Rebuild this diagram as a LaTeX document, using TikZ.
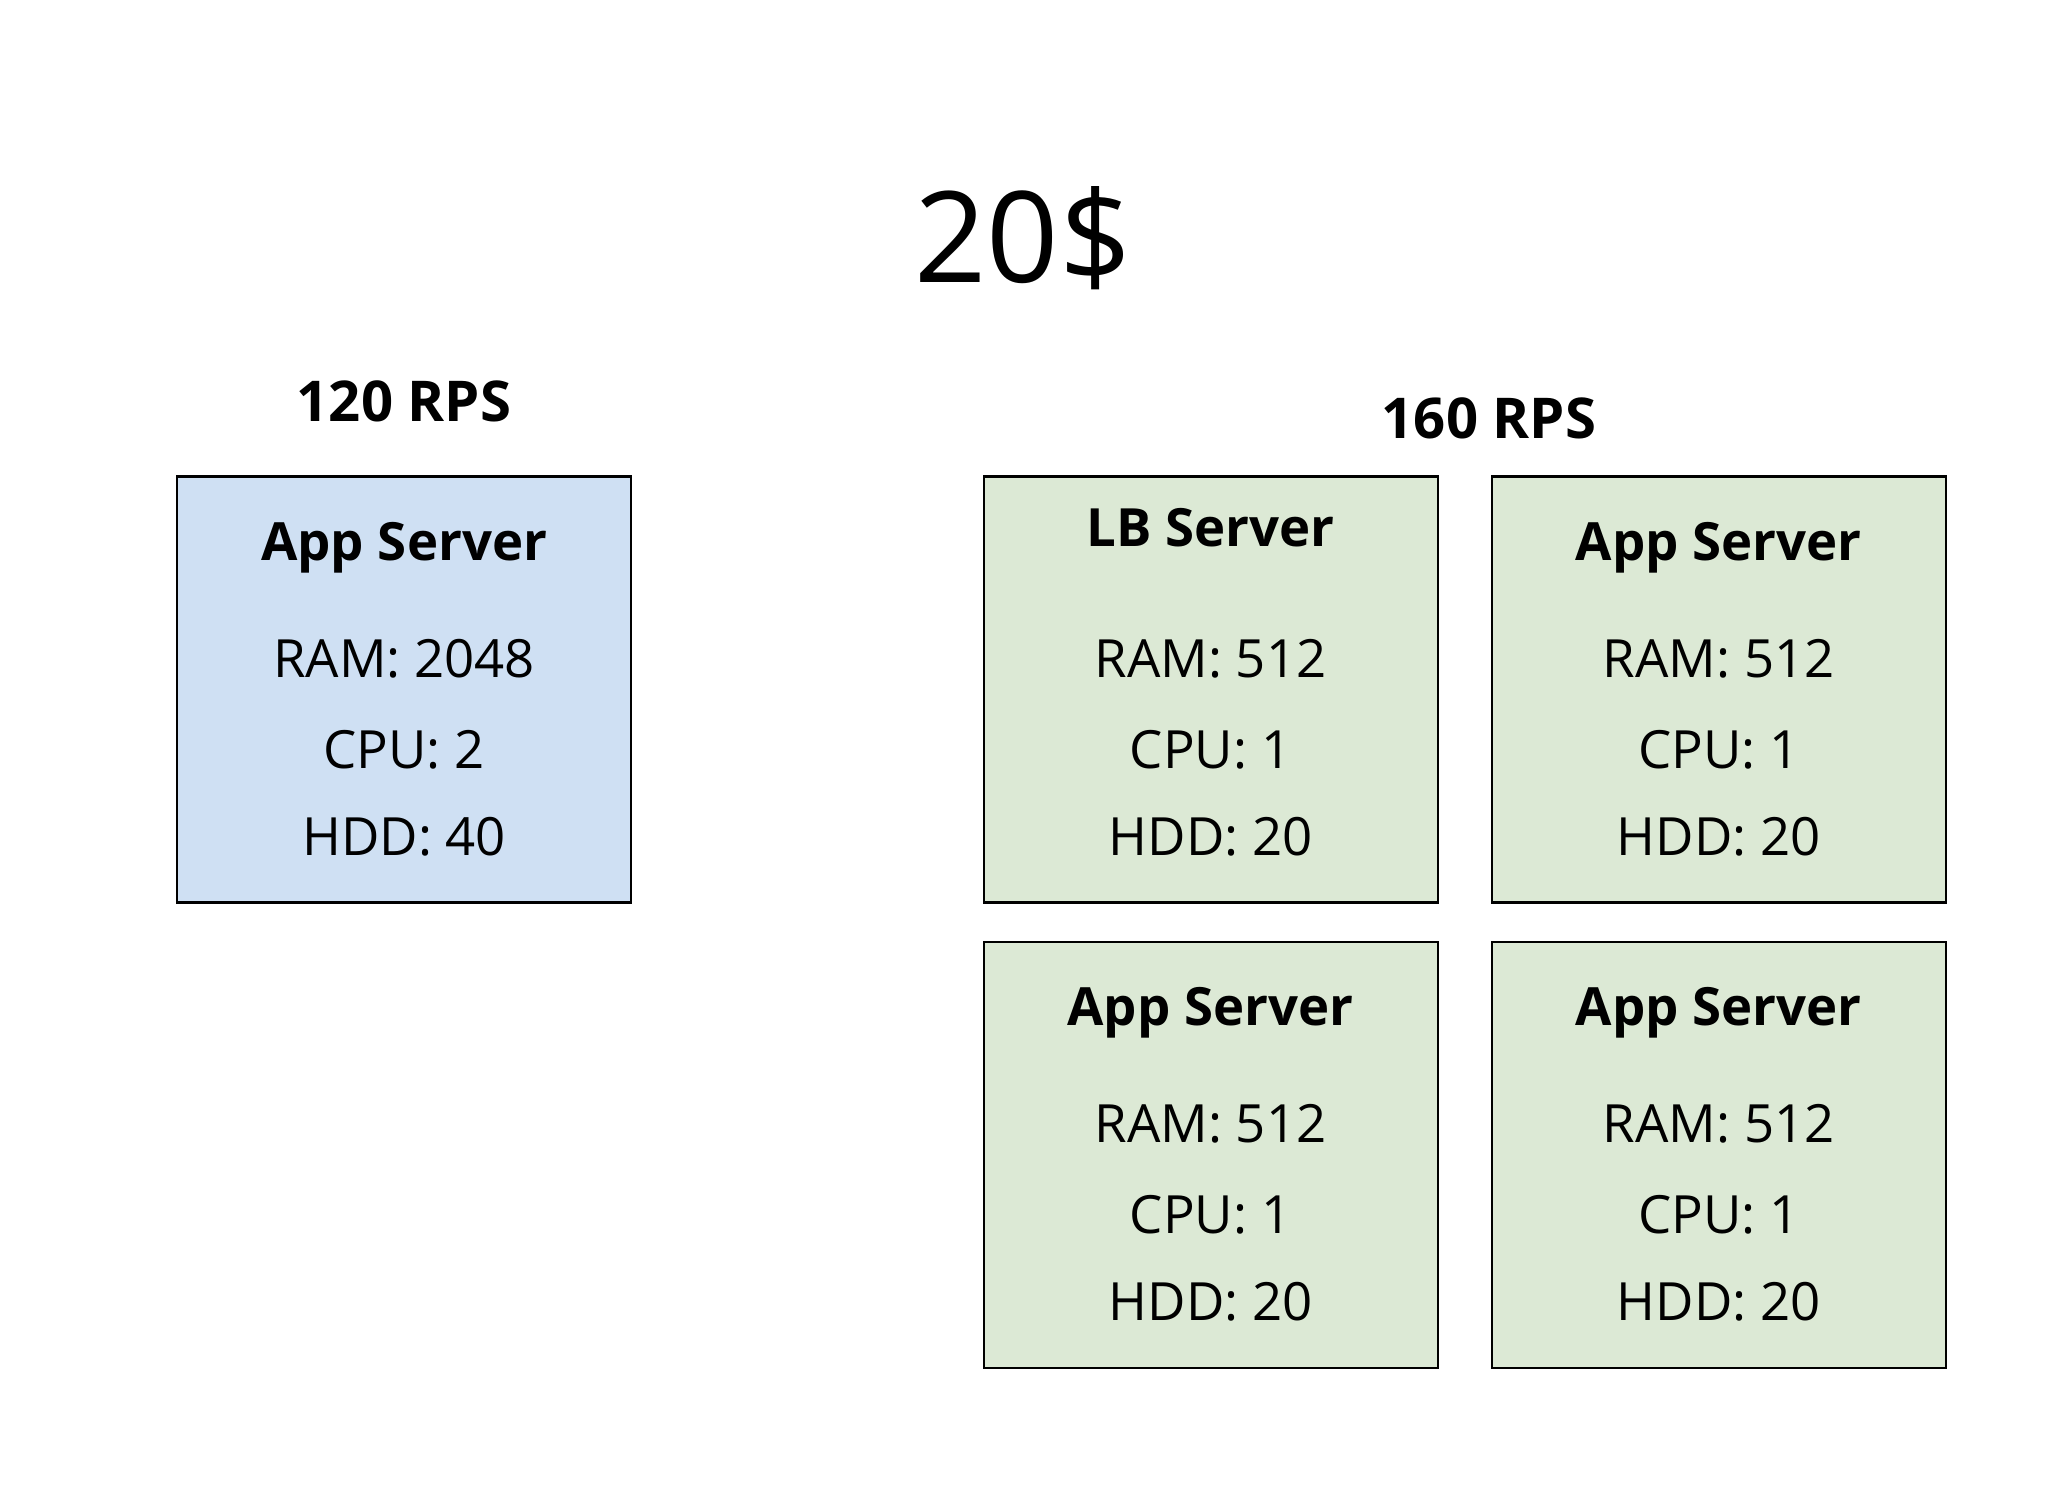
\documentclass[tikz,border=0pt]{standalone}
\usepackage{fontspec}
\setmainfont{Open Sans}
\usetikzlibrary{positioning, calc}
\definecolor{blueFill}{HTML}{CFE0F3}
\definecolor{greenFill}{HTML}{DCE9D5}
\begin{document}
\begin{tikzpicture}[
    server/.style={rectangle, draw=black, line width=0.6pt, minimum width=4.54cm, minimum height=4.26cm},
    head/.style={font=\fontsize{15}{18}\selectfont\bfseries},
    spec/.style={font=\fontsize{15}{18}\selectfont},
    rps/.style={font=\fontsize{16}{19}\selectfont\bfseries},
]
\useasboundingbox (0,0) rectangle (20.48,-14.94);

% title
\node[font=\fontsize{36}{40}\selectfont] (price) at (10.23, -2.38) {20\$};

% single server
\node[rps] (rpsA) at (4.04, -4.01) {120 RPS};
\node[server, fill=blueFill] (app) at (4.042, -6.895) {};
\node[head] (appT) at ($(app.north)+(0,-0.72)$) {App Server};
\node[spec] (appR) at ($(app.north)+(0,-1.83)$) {RAM: 2048};
\node[spec] (appCp) at ($(app.north)+(0,-2.74)$) {CPU: 2};
\node[spec] (appH) at ($(app.north)+(0,-3.61)$) {HDD: 40};

% cluster
\node[rps] (rpsB) at (14.89, -4.18) {160 RPS};
\node[server, fill=greenFill] (lb) at (12.106, -6.895) {};
\node[server, fill=greenFill] (appB) at (17.187, -6.895) {};
\node[server, fill=greenFill] (appC) at (12.106, -11.551) {};
\node[server, fill=greenFill] (appD) at (17.187, -11.551) {};

\node[head] at ($(lb.north)+(0,-0.52)$) {LB Server};
\foreach \n in {appB, appC, appD}
  \node[head] at ($(\n.north)+(0,-0.72)$) {App Server};
\foreach \n in {lb, appB, appC, appD} {
  \node[spec] at ($(\n.north)+(0,-1.83)$) {RAM: 512};
  \node[spec] at ($(\n.north)+(0,-2.74)$) {CPU: 1};
  \node[spec] at ($(\n.north)+(0,-3.61)$) {HDD: 20};
}
\end{tikzpicture}
\end{document}
